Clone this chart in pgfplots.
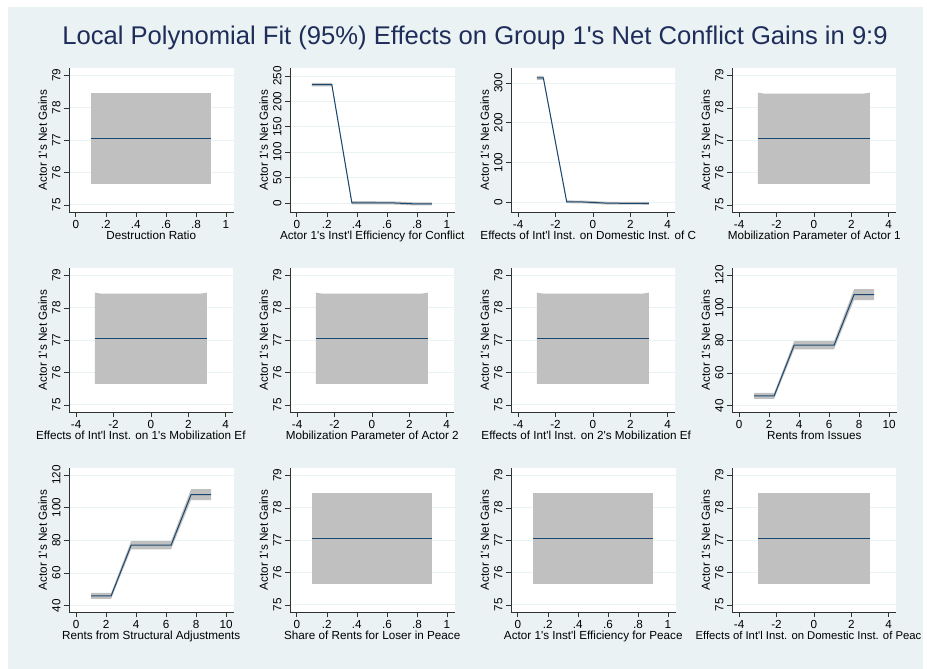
\documentclass[border=0pt]{standalone}
\usepackage{fontspec}
\setmainfont{Liberation Sans}
\usepackage{pgfplots}
\usepackage{pgfplotstable}
\pgfplotsset{compat=1.18}

\definecolor{bgc}{RGB}{234,242,243}
\definecolor{navyline}{RGB}{26,71,111}
\definecolor{bandc}{RGB}{192,192,192}
\definecolor{gridc}{RGB}{234,242,243}
\definecolor{titlec}{RGB}{30,45,90}
\definecolor{axc}{RGB}{50,50,50}

\newcommand{\q}{\textquotesingle}
\newcommand{\lf}{\fontsize{11.7}{13}\selectfont}

% fitted lines
\pgfplotstableread{
x y
0.1 77.05
0.9 77.05
}\flatA
\pgfplotstableread{
x y
-3 77.05
3 77.05
}\flatB
\pgfplotstableread{
x y
0.1 233
0.2333 233
0.3667 0.5
0.5 0.5
0.6333 0.3
0.7667 -1.5
0.9 -1.8
}\effconf
\pgfplotstableread{
x y
-3 313
-2.65 313
-1.4 0.5
-0.5 0
0.8 -3
3 -3.5
}\domconf
\pgfplotstableread{
x y
1 46
2.333 46
3.667 77
5 77
6.333 77
7.667 108
9 108
}\rents

% 95% CI bands (upper edge, then lower edge back)
\pgfplotstableread{
x b
0.1 78.45
0.9 78.45
0.9 75.65
0.1 75.65
}\flatAci
\pgfplotstableread{
x b
-3 78.47
-2.7 78.44
2.7 78.44
3 78.47
3 75.65
-3 75.65
}\flatBci
\pgfplotstableread{
x b
-3 78.45
3 78.45
3 75.65
-3 75.65
}\flatCci
\pgfplotstableread{
x b
0.1 236.5
0.2333 236.5
0.3667 3.5
0.5 3.5
0.6333 3.3
0.7667 1.5
0.9 1.2
0.9 -4.8
0.7667 -4.5
0.6333 -2.7
0.5 -2.5
0.3667 -2.5
0.2333 229.5
0.1 229.5
}\effconfci
\pgfplotstableread{
x b
-3 318
-2.65 318
-1.4 4
-0.5 3.5
0.8 0.5
3 0
3 -7
0.8 -6.5
-0.5 -3.5
-1.4 -3
-2.65 308
-3 308
}\domconfci
\pgfplotstableread{
x b
1 47.8
2.333 47.8
3.667 79.5
5 79.5
6.333 79.5
7.667 111.3
9 111.3
9 104.7
7.667 104.7
6.333 74.5
5 74.5
3.667 74.5
2.333 44.2
1 44.2
}\rentsci

\newcommand{\bandline}[2]{%
  \addplot[fill=bandc, draw=none, forget plot] table[x=x,y=b]{#2} -- cycle;
  \addplot[navyline, line width=1pt] table[x=x,y=y]{#1};
}

\pgfplotsset{
  stata/.style={
    scale only axis, width=164.5pt, height=144pt,
    anchor=south west,
    axis lines*=left,
    axis line style={axc, line width=0.6pt},
    axis background/.style={fill=white},
    ymajorgrids, grid style={gridc, line width=0.8pt},
    tick align=outside, major tick length=5pt,
    tick style={axc, line width=0.6pt},
    every tick label/.append style={font=\lf},
    label style={font=\lf},
    /pgf/number format/assume math mode=true,
    yticklabel style={rotate=90, anchor=south},
    xticklabel style={anchor=north},
    ylabel={Actor 1\q s Net Gains},
    ylabel style={at={(axis description cs:-0.134,0.5)}, anchor=base},
    xlabel style={at={(axis description cs:0.5,-0.191)}, anchor=base},
  },
  clipx/.style={xlabel style={at={(axis description cs:#1,-0.191)}, anchor=base west}},
  xunit/.style={xmin=-0.045, xmax=1.05, xtick={0,0.2,0.4,0.6,0.8,1}, xticklabels={0,.2,.4,.6,.8,1}},
  xfour/.style={xmin=-4.38, xmax=4.42, xtick={-4,-2,0,2,4}, xticklabels={-4,-2,0,2,4}},
  xten/.style={xmin=-0.48, xmax=10.5, xtick={0,2,4,6,8,10}, xticklabels={0,2,4,6,8,10}},
  yflat/.style={ymin=74.78, ymax=79.23, ytick={75,76,77,78,79}, yticklabels={75,76,77,78,79}},
  yrent/.style={ymin=36.1, ymax=124.3, ytick={40,60,80,100,120}, yticklabels={40,60,80,100,120}},
}

\begin{document}
\begin{tikzpicture}
\fill[white] (0pt,0pt) rectangle (927pt,-669pt);
\fill[bgc] (8pt,-7pt) rectangle (923pt,-669pt);
\node[anchor=base, text=titlec, font=\fontsize{25.6}{29}\selectfont] at (475pt,-45pt)
  {Local Polynomial Fit (95\%) Effects on Group 1\q s Net Conflict Gains in 9:9};

% Row 1
\begin{axis}[stata, at={(69pt,-212pt)}, xunit, yflat, xlabel={Destruction Ratio}]
\bandline{\flatA}{\flatAci}
\end{axis}
\begin{axis}[stata, at={(290pt,-212pt)}, xunit, ymin=-17.7, ymax=265.7,
  ytick={0,50,100,150,200,250}, yticklabels={0,50,100,150,200,250},
  xlabel={Actor 1\q s Inst\q l Efficiency for Conflict}]
\bandline{\effconf}{\effconfci}
\end{axis}
\begin{axis}[stata, at={(511pt,-212pt)}, xfour, ymin=-25.2, ymax=337.8,
  ytick={0,100,200,300}, yticklabels={0,100,200,300},
  clipx=-0.207, xlabel={Effects of Int\q l Inst. on Domestic Inst. of C}]
\bandline{\domconf}{\domconfci}
\end{axis}
\begin{axis}[stata, at={(732pt,-212pt)}, xfour, yflat, xlabel={Mobilization Parameter of Actor 1}]
\bandline{\flatB}{\flatBci}
\end{axis}

% Row 2
\begin{axis}[stata, at={(69pt,-412pt)}, xfour, yflat,
  clipx=-0.222, xlabel={Effects of Int\q l Inst. on 1\q s Mobilization Ef}]
\bandline{\flatB}{\flatBci}
\end{axis}
\begin{axis}[stata, at={(290pt,-412pt)}, xfour, yflat, xlabel={Mobilization Parameter of Actor 2}]
\bandline{\flatB}{\flatBci}
\end{axis}
\begin{axis}[stata, at={(511pt,-412pt)}, xfour, yflat,
  clipx=-0.201, xlabel={Effects of Int\q l Inst. on 2\q s Mobilization Ef}]
\bandline{\flatB}{\flatBci}
\end{axis}
\begin{axis}[stata, at={(732pt,-412pt)}, xten, yrent, xlabel={Rents from Issues}]
\bandline{\rents}{\rentsci}
\end{axis}

% Row 3
\begin{axis}[stata, at={(69pt,-612pt)}, xten, yrent, xlabel={Rents from Structural Adjustments}]
\bandline{\rents}{\rentsci}
\end{axis}
\begin{axis}[stata, at={(290pt,-612pt)}, xunit, yflat, xlabel={Share of Rents for Loser in Peace}]
\bandline{\flatA}{\flatAci}
\end{axis}
\begin{axis}[stata, at={(511pt,-612pt)}, xunit, yflat, xlabel={Actor 1\q s Inst\q l Efficiency for Peace}]
\bandline{\flatA}{\flatAci}
\end{axis}
\begin{axis}[stata, at={(732pt,-612pt)}, xfour, yflat,
  clipx=-0.243, xlabel style={font=\fontsize{11.3}{13}\selectfont},
  xlabel={Effects of Int\q l Inst. on Domestic Inst. of Peac}]
\bandline{\flatB}{\flatCci}
\end{axis}

\pgfresetboundingbox
\useasboundingbox (0pt,0pt) rectangle (927pt,-669pt);
\end{tikzpicture}
\end{document}
